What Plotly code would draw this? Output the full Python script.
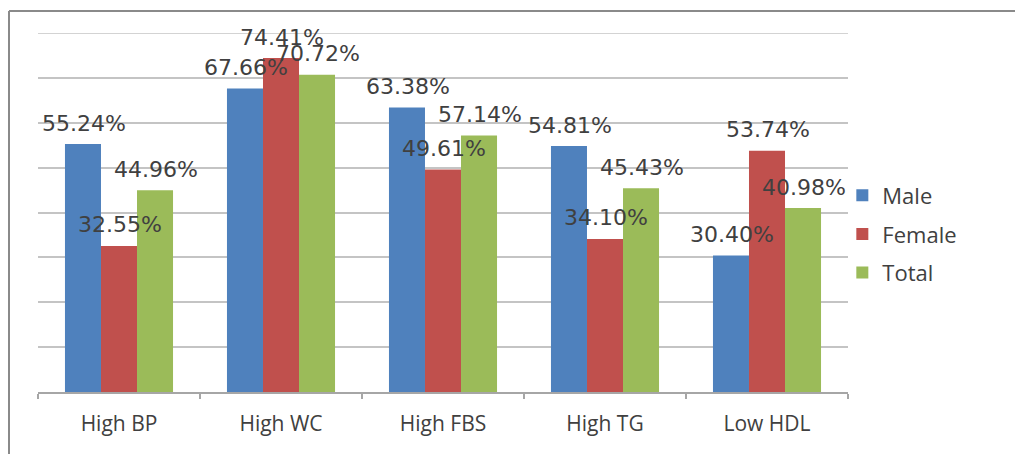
import plotly.graph_objects as go

categories = ["High BP", "High WC", "High FBS", "High TG", "Low HDL"]
male = [55.24, 67.66, 63.38, 54.81, 30.40]
female = [32.55, 74.41, 49.61, 34.10, 53.74]
total = [44.96, 70.72, 57.14, 45.43, 40.98]
series_names = ["Male", "Female", "Total"]
colors = ["#4F81BD", "#C0504D", "#9BBB59"]
y_max = 80

fig = go.Figure()
for i, (name, vals) in enumerate(zip(series_names, [male, female, total])):
    fig.add_trace(go.Bar(
        x=categories, y=vals, name=name,
        marker=dict(color=colors[i], line=dict(width=0)),
        legendgroup=name,
    ))

# data labels
shifts = [-36, 0, 36]
for i, vals in enumerate([male, female, total]):
    for c, v in zip(categories, vals):
        fig.add_annotation(
            x=c, y=v, xref="x", yref="y", text=f"{v:.2f}%",
            showarrow=False, xshift=shifts[i] + 1, yshift=21,
            yanchor="middle", xanchor="center",
            font=dict(family="DejaVu Sans", size=22, color="#404040"),
        )

# top gridline at the range maximum
fig.add_shape(type="line", xref="paper", yref="y", x0=0, x1=1,
              y0=y_max, y1=y_max, layer="below",
              line=dict(color="#c4c4c4", width=1.5))

# outer frame (top and left edges visible)
fig.add_shape(type="line", xref="paper", yref="paper",
              x0=-0.0358, x1=1.25, y0=1.061, y1=1.061,
              line=dict(color="#8a8a8a", width=2))
fig.add_shape(type="line", xref="paper", yref="paper",
              x0=-0.0358, x1=-0.0358, y0=1.061, y1=-0.2,
              line=dict(color="#8a8a8a", width=2))

fig.update_layout(
    width=1015, height=454,
    margin=dict(l=38, r=167, t=33, b=62),
    paper_bgcolor="white", plot_bgcolor="white",
    barmode="group", bargap=0.333, bargroupgap=0,
    showlegend=True,
    legend=dict(
        x=0.993, y=0.44, xanchor="left", yanchor="middle",
        font=dict(family="Open Sans", size=22, color="#404040"),
        tracegroupgap=7, bgcolor="rgba(0,0,0,0)",
    ),
    xaxis=dict(
        type="category", showgrid=False, showline=True,
        linecolor="#a6a6a6", linewidth=1.5,
        ticks="outside", tickson="boundaries", ticklen=5,
        tickcolor="#a6a6a6", tickwidth=1.5,
        ticklabelstandoff=12,
        tickfont=dict(family="Open Sans", size=21, color="#404040"),
    ),
    yaxis=dict(
        range=[0, y_max], dtick=10, showticklabels=False,
        showgrid=True, gridcolor="#c4c4c4", gridwidth=1.5,
        showline=False, zeroline=False, ticks="",
    ),
)

fig.write_html("out.html")
